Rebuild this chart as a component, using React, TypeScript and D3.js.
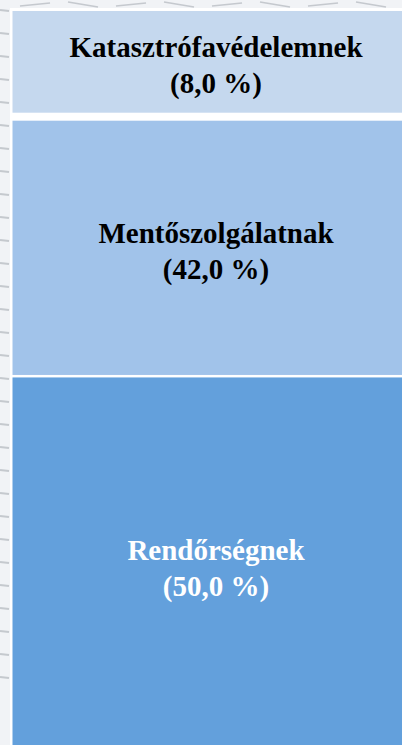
import React, { useEffect, useRef } from 'react';
import * as d3 from 'd3';

// share of each service, stacked top to bottom
const categories = ['Katasztrófavédelemnek', 'Mentőszolgálatnak', 'Rendőrségnek'];
const shares = [8.0, 42.0, 50.0];
const fills = ['#C5D8EE', '#A1C3EA', '#63A0DC'];
const textColors = ['#000000', '#000000', '#ffffff'];

const W = 402;
const H = 745;

const App = () => {
  const ref = useRef<SVGSVGElement>(null);

  useEffect(() => {
    const svg = d3.select(ref.current);
    svg.selectAll('*').remove();

    // background texture (left strip + top strip)
    svg.append('rect').attr('width', W).attr('height', H).attr('fill', '#F1F3F6');
    const bg = svg.append('g').attr('stroke', '#9AA0A8').attr('stroke-width', 2).attr('opacity', 0.5);
    d3.range(10, H - 60, 23).forEach(y => {
      bg.append('line').attr('x1', 0).attr('x2', 9).attr('y1', y).attr('y2', y + 1);
    });
    d3.range(20, W, 48).forEach((x, i) => {
      bg.append('line')
        .attr('x1', x).attr('x2', x + 30)
        .attr('y1', i % 2 ? 2 : 6).attr('y2', i % 2 ? 7 : 3)
        .attr('stroke-width', 1.5);
    });
    svg.append('rect').attr('x', 10).attr('y', 8).attr('width', W).attr('height', H).attr('fill', '#ffffff');

    // cumulative stacking
    const stacked = shares.map((v, i) => ({
      name: categories[i],
      value: v,
      start: d3.sum(shares.slice(0, i)),
      end: d3.sum(shares.slice(0, i + 1)),
      fill: fills[i],
      color: textColors[i],
    }));

    // the visible panel is not linear in share, so map cumulative shares piecewise
    const y = d3.scaleLinear()
      .domain([0, stacked[0].end, stacked[1].end, 100])
      .range([11, 116.7, 376.2, 752]);
    const gaps = [0, 8, 2.5];
    const x0 = 12.5;

    const g = svg.append('g');
    stacked.forEach((d, i) => {
      const top = y(d.start) + gaps[i] / 2;
      const bottom = i < stacked.length - 1 ? y(d.end) - gaps[i + 1] / 2 : y(d.end);
      g.append('rect')
        .attr('x', x0)
        .attr('y', top)
        .attr('width', W - x0 + 10)
        .attr('height', bottom - top)
        .attr('fill', d.fill);

      const cx = 216;
      const cy = (top + bottom) / 2;
      const t = g.append('text')
        .attr('x', cx)
        .attr('y', cy - 5)
        .attr('text-anchor', 'middle')
        .attr('font-family', '"Liberation Serif", "Times New Roman", serif')
        .attr('font-weight', 'bold')
        .attr('font-size', 29)
        .attr('fill', d.color);
      t.append('tspan').attr('x', cx).attr('dy', 0).text(d.name);
      t.append('tspan').attr('x', cx).attr('dy', 36)
        .text(`(${d3.format('.1f')(d.value).replace('.', ',')} %)`);
    });
  }, []);

  return (
    <svg
      ref={ref}
      width={W}
      height={H}
      style={{ position: 'fixed', left: 0, top: 0, display: 'block' }}
    />
  );
};

export default App;
